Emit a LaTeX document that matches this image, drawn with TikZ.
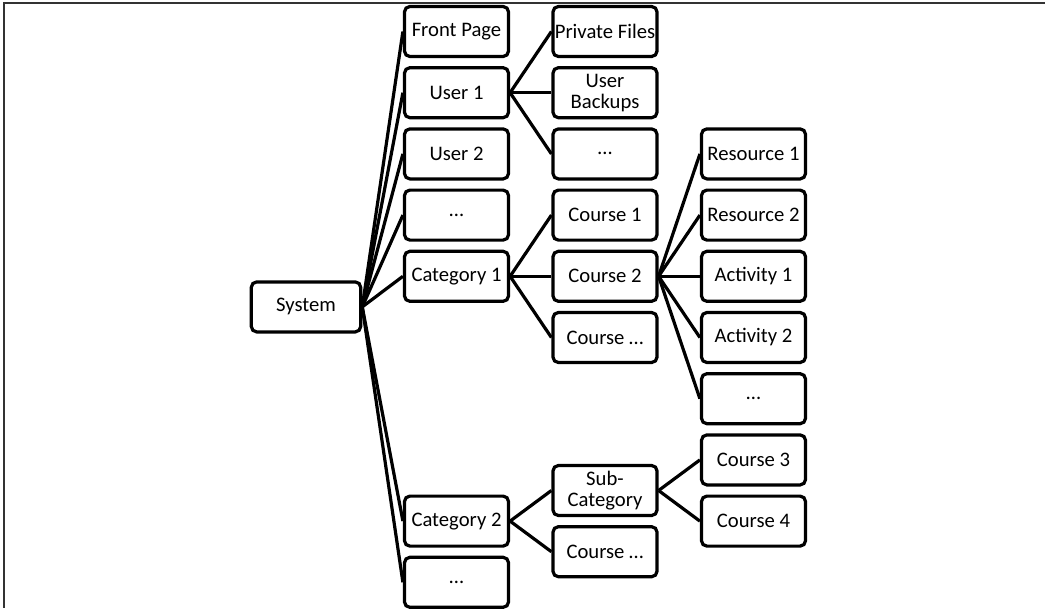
\documentclass[tikz,border=0pt]{standalone}
\usepackage{fontspec}
\setmainfont{Carlito}
\usetikzlibrary{positioning}
\tikzset{
  box/.style={draw, line width=2.4pt, rounded corners=4pt, minimum width=78pt,
    minimum height=37.5pt, inner sep=1pt, align=center,
    font=\fontsize{15.5}{15.5}\selectfont},
  link/.style={line width=2.4pt}
}

\begin{document}
\begin{tikzpicture}[x=0.75pt,y=-0.75pt]
			%%%%% START %%%%%
			\useasboundingbox (0,0) rectangle (1045,608);
			\draw[black!80, line width=1.5pt] (1045,3) -- (4,3) -- (4,608);
			
			\node[box, minimum width=82pt] (sys) at (306,306.9) {System};
			
			% first level
			\node[box] (front) at (456.5,31.5) {Front Page};
			\node[box] (user1) at (456.5,92.7) {User 1};
			\node[box] (user2) at (456.5,153.9) {User 2};
			\node[box] (dotsa) at (456.5,215.1) {…};
			\node[box] (cat1) at (456.5,276.3) {Category 1};
			\node[box] (cat2) at (456.5,521.1) {Category 2};
			\node[box] (dotsb) at (456.5,582.3) {…};
			
			% second level
			\node[box] (priv) at (605,31.5) {Private Files};
			\node[box] (backup) at (605,92.7) {User\\Backups};
			\node[box] (udots) at (605,153.9) {…};
			\node[box] (crs1) at (605,215.1) {Course 1};
			\node[box] (crs2) at (605,276.3) {Course 2};
			\node[box] (crsdots) at (605,337.5) {Course …};
			\node[box] (subcat) at (605,490.5) {Sub-\\Category};
			\node[box] (crsdotsb) at (605,551.7) {Course …};
			
			% third level
			\node[box] (res1) at (753.5,153.9) {Resource 1};
			\node[box] (res2) at (753.5,215.1) {Resource 2};
			\node[box] (act1) at (753.5,276.3) {Activity 1};
			\node[box] (act2) at (753.5,337.5) {Activity 2};
			\node[box] (adots) at (753.5,398.7) {…};
			\node[box] (crs3) at (753.5,459.9) {Course 3};
			\node[box] (crs4) at (753.5,521.1) {Course 4};
			
			\foreach \n in {front,user1,user2,dotsa,cat1,cat2,dotsb}
				\draw[link] (sys.east) -- (\n.west);
			\foreach \n in {priv,backup,udots}
				\draw[link] (user1.east) -- (\n.west);
			\foreach \n in {crs1,crs2,crsdots}
				\draw[link] (cat1.east) -- (\n.west);
			\foreach \n in {res1,res2,act1,act2,adots}
				\draw[link] (crs2.east) -- (\n.west);
			\foreach \n in {subcat,crsdotsb}
				\draw[link] (cat2.east) -- (\n.west);
			\foreach \n in {crs3,crs4}
				\draw[link] (subcat.east) -- (\n.west);
			%%%%% END %%%%%
\end{tikzpicture}
\end{document}
